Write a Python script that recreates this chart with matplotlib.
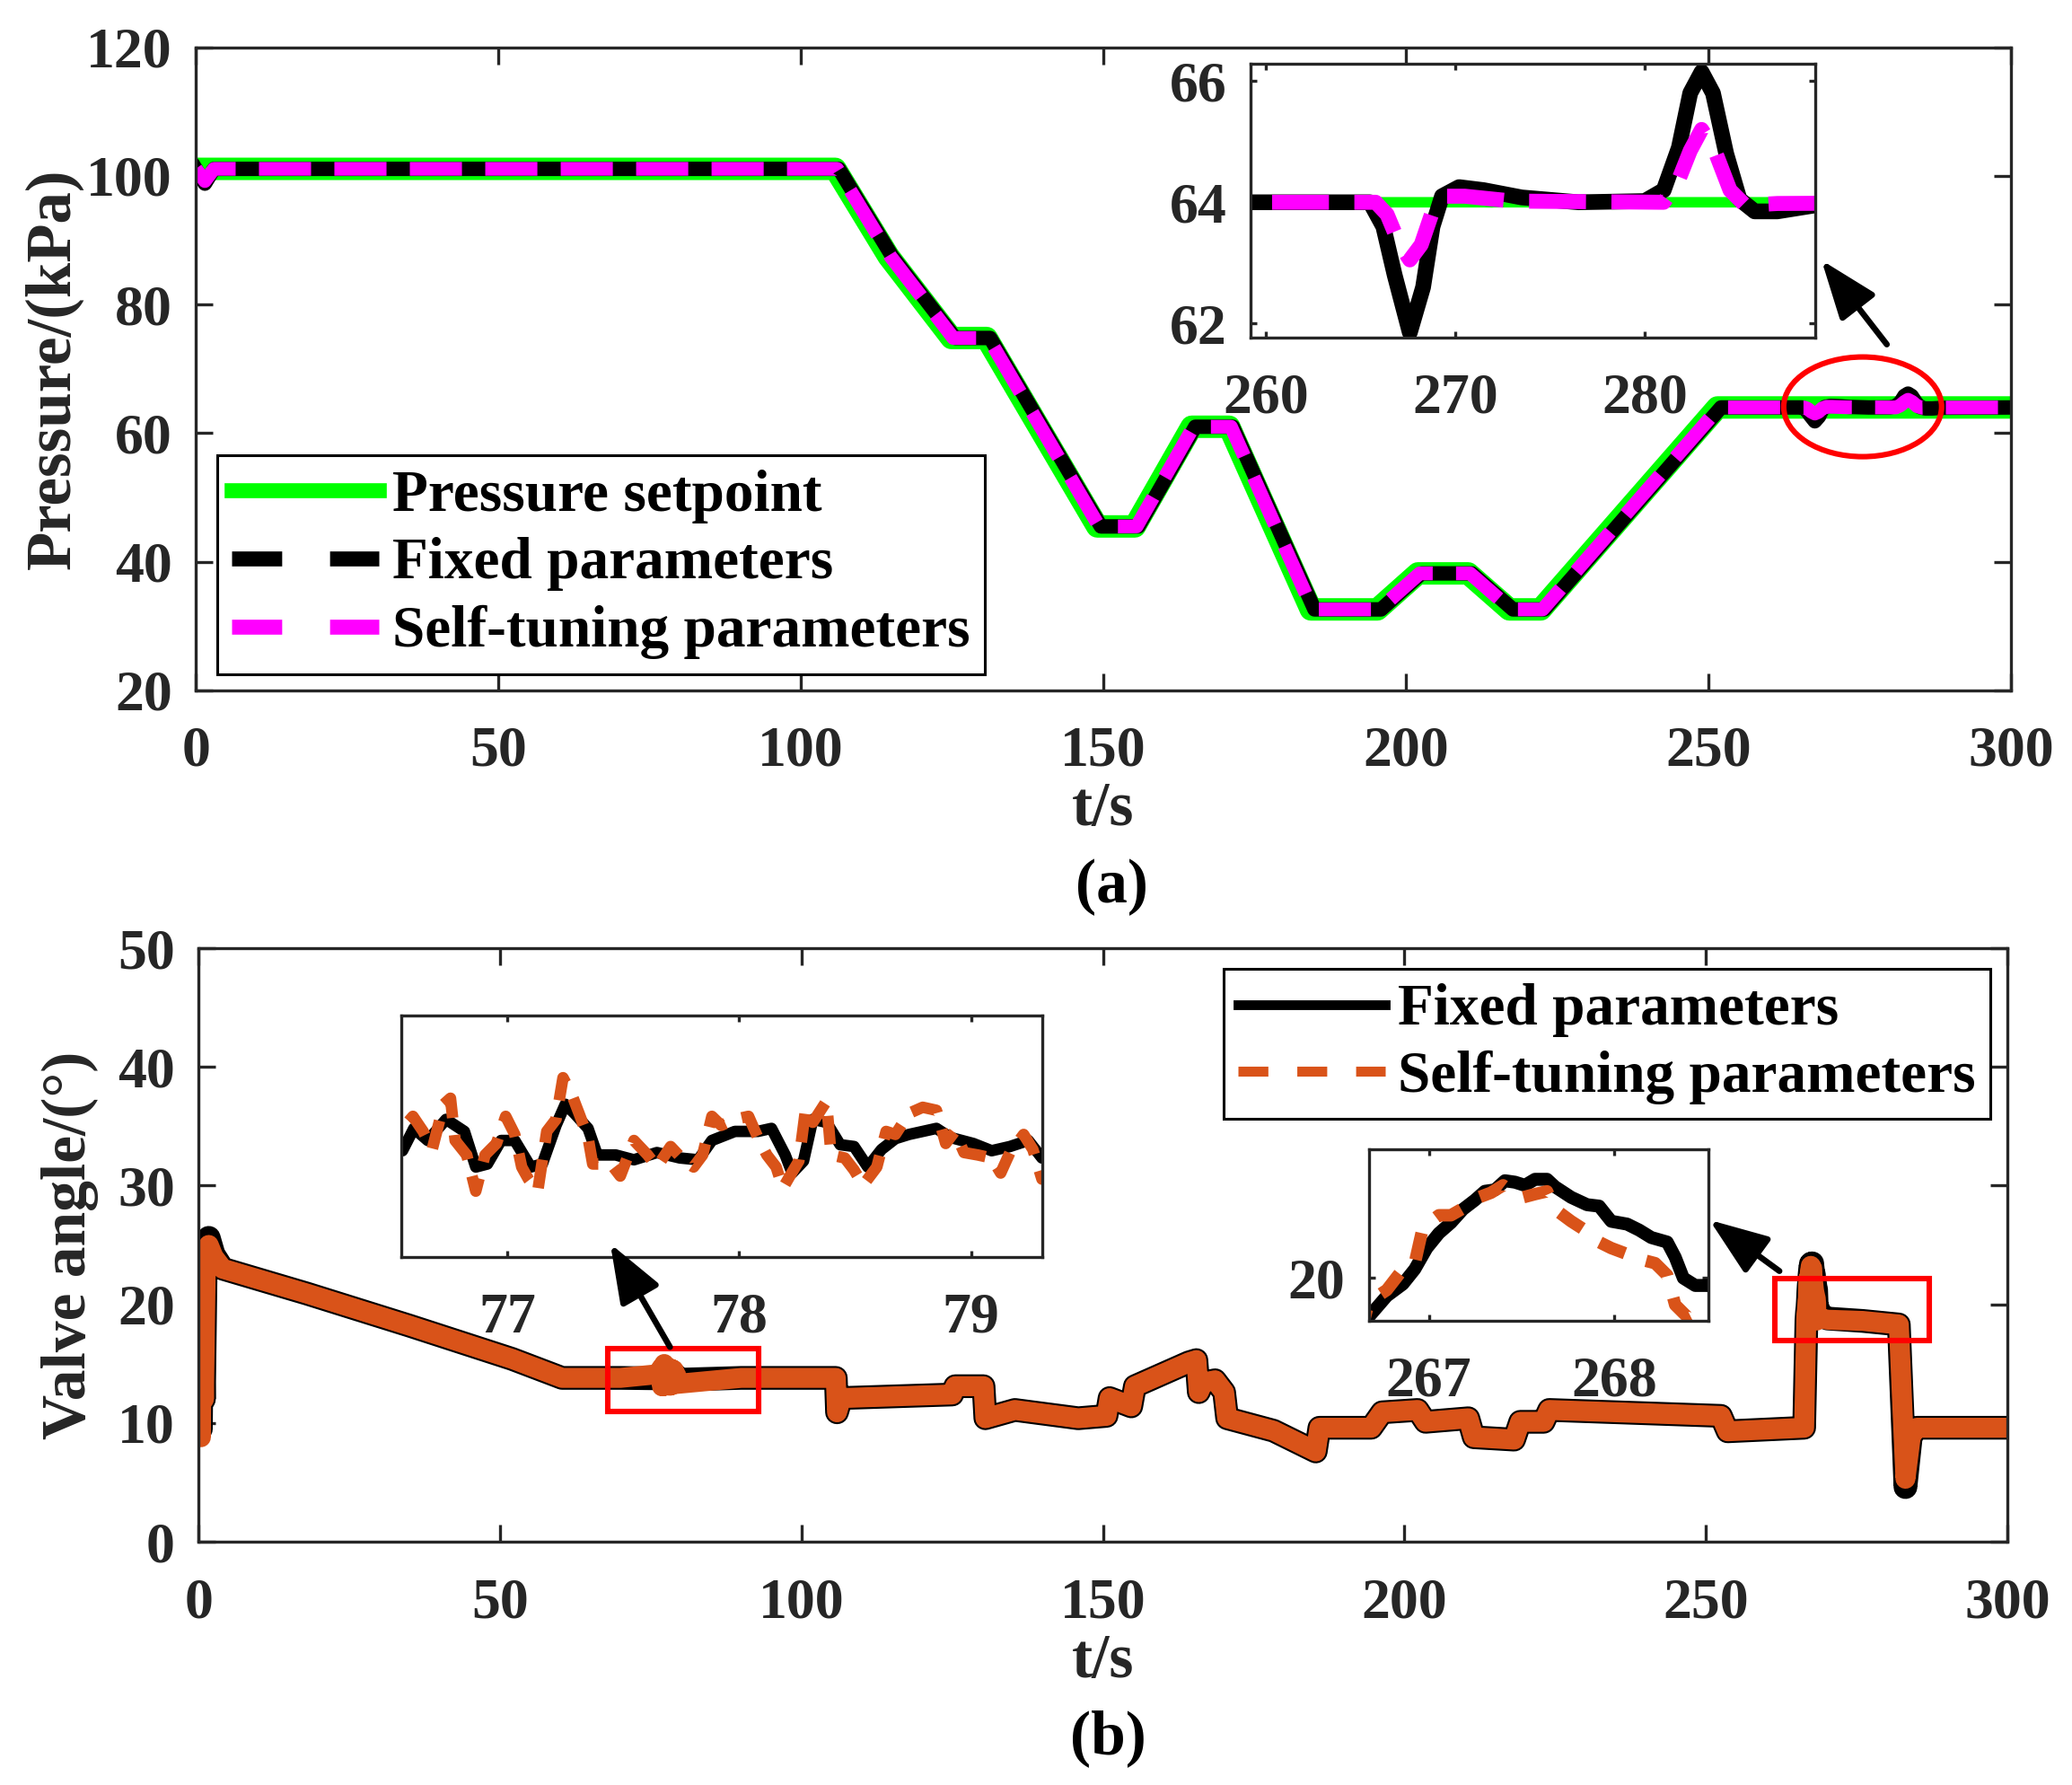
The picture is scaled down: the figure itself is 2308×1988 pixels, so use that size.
import numpy as np
import matplotlib.pyplot as plt
from matplotlib.lines import Line2D
from matplotlib.patches import Ellipse, Rectangle, FancyArrowPatch

plt.rcParams['font.family'] = ['Liberation Serif', 'DejaVu Serif']
plt.rcParams['font.weight'] = 'bold'
plt.rcParams['axes.labelweight'] = 'bold'

GRAY = '#262626'
GREEN = '#00ff00'
MAGENTA = '#ff00ff'
ORANGE = '#d95319'

# ---------------- (a) pressure, kPa ----------------
t_set = [0, 105.7, 114.5, 124.9, 130.7, 149.0, 155.2, 164.6, 170.8, 184.3, 195.3,
         202.0, 210.3, 217.1, 222.3, 251.5, 300]
p_set = [101.1, 101.1, 87.5, 74.8, 74.8, 45.5, 45.5, 61.0, 61.0, 32.6, 32.6,
         38.2, 38.2, 32.6, 32.6, 64.0, 64.0]

t_fix = [0, 1.5, 3.0, 106.3, 115.1, 125.5, 131.3, 149.6, 155.8, 165.2, 171.4,
         184.9, 195.9, 202.6, 210.9, 217.7, 222.9, 252.1, 265.5, 266.2, 266.8,
         267.6, 268.3, 268.8, 269.3, 270.2, 271.5, 273.5, 276.5, 280.0, 281.0,
         281.8, 282.4, 283.0, 283.6, 284.3, 285.0, 285.8, 287.0, 289.0, 300]
p_fix = [101.1, 98.8, 101.1, 101.1, 87.5, 74.8, 74.8, 45.5, 45.5, 61.0, 61.0,
         32.6, 32.6, 38.2, 38.2, 32.6, 32.6, 64.0, 64.0, 63.6, 62.8,
         61.85, 62.6, 63.6, 64.1, 64.25, 64.2, 64.08, 64.0, 64.02, 64.2,
         64.9, 65.8, 66.15, 65.8, 64.8, 64.05, 63.85, 63.85, 63.95, 64.0]

t_self = [0, 1.5, 3.0, 106.0, 114.8, 125.2, 131.0, 149.3, 155.5, 164.9, 171.1,
          184.6, 195.6, 202.3, 210.6, 217.4, 222.6, 251.8, 265.8, 266.4, 267.0,
          267.6, 268.2, 268.8, 269.5, 270.5, 273.0, 281.0, 281.7, 282.4, 283.0,
          283.7, 284.5, 285.3, 287.0, 300]
p_self = [101.1, 99.2, 101.1, 101.1, 87.5, 74.8, 74.8, 45.5, 45.5, 61.0, 61.0,
          32.6, 32.6, 38.2, 38.2, 32.6, 32.6, 64.0, 64.0, 63.8, 63.35,
          63.05, 63.3, 63.85, 64.1, 64.1, 64.02, 64.0, 64.3, 64.85, 65.2,
          64.85, 64.2, 63.95, 63.98, 64.0]

# ---------------- (b) valve angle, deg ----------------
t_valve = [0, 0.2, 0.4, 0.6, 0.9, 1.2, 1.7, 2.5, 4, 18, 35, 52, 60.3, 70, 90,
           105.7, 105.9, 106.6, 125.0, 125.5, 130.2, 130.5, 135.4, 145.9, 150.6,
           151.1, 154.7, 155.3, 164.2, 165.5, 165.9, 166.6, 168.6, 170.1, 170.6,
           178.3, 185.3, 185.9, 194.5, 196.3, 202.2, 203.5, 210.6, 211.5, 218.2,
           219.2, 223.1, 224.0, 252.5, 253.6, 266.3, 269.2, 270.2, 276, 282.0,
           283.1, 284.0, 285.0, 300]
v_fix = [10.0, 21.5, 9.5, 20.5, 12.0, 23.5, 25.6, 24.2, 23.0, 20.9, 18.2, 15.4, 13.8, 13.8, 13.8,
         13.8, 10.9, 12.1, 12.4, 13.1, 13.1, 10.4, 11.1, 10.4, 10.6,
         12.1, 11.4, 13.1, 15.1, 15.3, 12.6, 13.4, 13.6, 12.6, 10.4,
         9.35, 7.6, 9.6, 9.6, 10.9, 11.1, 10.1, 10.4, 8.8, 8.6,
         10.1, 10.1, 11.1, 10.6, 9.3, 9.6, 19.0, 18.8, 18.6, 18.3,
         4.6, 8.9, 9.6, 9.6]
v_self = [10.0, 22.5, 8.8, 21.5, 12.0, 23.0, 25.0, 24.0, 23.0, 20.9, 18.2, 15.4, 13.8, 13.8, 13.8,
          13.8, 10.9, 12.1, 12.4, 13.1, 13.1, 10.4, 11.1, 10.4, 10.6,
          12.1, 11.4, 13.1, 15.1, 15.3, 12.6, 13.4, 13.6, 12.6, 10.4,
          9.35, 7.6, 9.6, 9.6, 10.9, 11.1, 10.1, 10.4, 8.8, 8.6,
          10.1, 10.1, 11.1, 10.6, 9.3, 9.6, 18.8, 18.7, 18.6, 18.3,
          5.3, 8.9, 9.6, 9.6]

# detail 76.5 - 79.3 s
t_z1_fix = [76.549, 76.598, 76.658, 76.737, 76.816, 76.865, 76.915, 76.974, 77.033, 77.102,
            77.152, 77.211, 77.251, 77.290, 77.349, 77.389, 77.468, 77.547, 77.646, 77.745,
            77.824, 77.883, 77.982, 78.081, 78.140, 78.199, 78.229, 78.278, 78.318, 78.377,
            78.436, 78.496, 78.555, 78.614, 78.674, 78.733, 78.792, 78.851, 78.911, 79.010,
            79.089, 79.168, 79.247, 79.306]
v_z1_fix = [13.76, 14.13, 13.93, 14.28, 14.08, 13.49, 13.54, 13.93, 13.93, 13.49,
            13.54, 14.18, 14.53, 14.38, 14.13, 13.69, 13.69, 13.61, 13.73, 13.64,
            13.61, 13.93, 14.08, 14.08, 14.13, 13.69, 13.39, 13.59, 14.28, 14.23,
            13.86, 13.83, 13.49, 13.78, 13.96, 14.03, 14.08, 14.13, 13.98, 13.88,
            13.76, 13.83, 13.93, 13.64]
t_z1_self = [76.549, 76.594, 76.638, 76.677, 76.727, 76.756, 76.776, 76.826, 76.865, 76.905,
             76.954, 76.994, 77.033, 77.063, 77.092, 77.132, 77.171, 77.211, 77.241, 77.280,
             77.310, 77.349, 77.369, 77.448, 77.488, 77.547, 77.606, 77.646, 77.705, 77.764,
             77.804, 77.843, 77.883, 77.923, 77.982, 78.041, 78.081, 78.120, 78.160, 78.189,
             78.219, 78.258, 78.288, 78.318, 78.377, 78.397, 78.456, 78.496, 78.535, 78.594,
             78.634, 78.674, 78.733, 78.792, 78.851, 78.891, 78.930, 78.970, 79.029, 79.089,
             79.128, 79.168, 79.227, 79.267, 79.306]
v_z1_self = [14.13, 14.33, 14.08, 13.78, 14.53, 14.63, 13.93, 13.69, 13.09, 13.69,
             13.88, 14.33, 14.03, 13.49, 13.29, 13.09, 14.08, 14.28, 14.97, 14.68,
             14.38, 13.98, 13.54, 13.54, 13.34, 13.93, 13.69, 13.49, 13.83, 13.59,
             13.49, 13.69, 14.33, 14.18, 14.28, 14.33, 13.98, 13.69, 13.49, 13.14,
             13.34, 13.59, 14.48, 14.23, 14.58, 13.69, 13.64, 13.44, 13.19, 13.49,
             14.08, 14.03, 14.38, 14.48, 14.43, 13.88, 14.08, 13.73, 13.69, 13.64,
             13.39, 13.73, 14.03, 13.78, 13.29]

# detail 266.7 - 268.5 s
t_z2_fix = [266.676, 266.773, 266.860, 266.924, 266.989, 267.054, 267.119, 267.184, 267.248, 267.302,
            267.356, 267.410, 267.464, 267.518, 267.572, 267.637, 267.680, 267.767, 267.853, 267.918,
            267.983, 268.069, 268.134, 268.199, 268.285, 268.328, 268.372, 268.436, 268.501]
v_z2_fix = [18.63, 19.36, 19.78, 20.30, 21.04, 21.56, 21.93, 22.40, 22.72, 23.03,
            23.08, 23.40, 23.35, 23.24, 23.45, 23.45, 23.19, 22.82, 22.56, 22.51,
            21.98, 21.88, 21.67, 21.41, 21.25, 20.72, 19.99, 19.73, 19.73]
t_z2_self = [266.676, 266.773, 266.860, 266.924, 266.968, 267.054, 267.119, 267.205, 267.270, 267.335,
             267.400, 267.443, 267.508, 267.572, 267.637, 267.680, 267.767, 267.853, 267.918, 267.983,
             268.069, 268.155, 268.220, 268.285, 268.328, 268.393, 268.458, 268.501]
v_z2_self = [19.15, 19.57, 20.30, 20.51, 21.77, 22.19, 22.19, 22.51, 22.82, 22.98,
             23.24, 23.03, 22.82, 22.93, 23.03, 22.40, 21.98, 21.62, 21.25, 21.04,
             20.83, 20.62, 20.51, 20.09, 19.05, 18.63, 18.84, 18.89]


def merge(*parts):
    t = np.concatenate([np.asarray(p[0], float) for p in parts])
    v = np.concatenate([np.asarray(p[1], float) for p in parts])
    o = np.argsort(t, kind='stable')
    return t[o], v[o]


tv_fix, vv_fix = merge((t_valve, v_fix), (t_z1_fix, v_z1_fix), (t_z2_fix, v_z2_fix))
tv_self, vv_self = merge((t_valve, v_self), (t_z1_self, v_z1_self), (t_z2_self, v_z2_self))


def style(ax, ticklen=7, lab=23):
    ax.tick_params(direction='in', top=True, right=True, length=ticklen, width=1.2,
                   labelsize=lab, colors=GRAY)
    ax.tick_params(axis='x', pad=14.4)
    ax.tick_params(axis='y', pad=9.4)
    for s in ax.spines.values():
        s.set_linewidth(1.2)
        s.set_color(GRAY)


def arrow(ax, tail, tip):
    fig.add_artist(FancyArrowPatch(tail, tip, transform=ax.transData,
                                   arrowstyle='-|>,head_length=20,head_width=7.5',
                                   mutation_scale=1, lw=2.4, color='k',
                                   shrinkA=0, shrinkB=0, zorder=10))


fig = plt.figure(figsize=(11.54, 9.94), dpi=200)

# ---------- panel (a) ----------
ax1 = fig.add_axes([0.0945, 0.6132, 0.876, 0.3603])
ax1.plot(t_set, p_set, color=GREEN, lw=9)
ax1.plot(t_fix, p_fix, color='k', lw=5.8)
ax1.plot(t_self, p_self, color=MAGENTA, lw=5.5, ls=(0, (3.8, 1.7)))
ax1.set_xlim(0, 300)
ax1.set_ylim(20, 120)
ax1.set_xticks(np.arange(0, 301, 50))
ax1.set_yticks(np.arange(20, 121, 20))
style(ax1)
ax1.set_xlabel('t/s', fontsize=25, color=GRAY)
ax1.xaxis.label.set_va('center')
ax1.xaxis.set_label_coords(0.5, -0.186)
ax1.set_ylabel('Pressure/(kPa)', fontsize=25.5, color=GRAY)
ax1.yaxis.label.set_va('center')
ax1.yaxis.set_label_coords(-0.078, 0.5)
ax1.add_patch(Ellipse((275.5, 64.1), 26.1, 15.5, fill=False, edgecolor='r',
                      lw=2.2, zorder=5, clip_on=False))
leg_a = [Line2D([], [], color=GREEN, lw=6),
         Line2D([], [], color='k', lw=6, ls=(0, (3.35, 3.2))),
         Line2D([], [], color=MAGENTA, lw=6, ls=(0, (3.35, 3.2)))]
la = ax1.legend(leg_a, ['Pressure setpoint', 'Fixed parameters', 'Self-tuning parameters'],
                loc='lower left', bbox_to_anchor=(0.0119, 0.0255), borderaxespad=0,
                fontsize=23.5, fancybox=False, edgecolor='k', framealpha=1,
                handlelength=2.51, handletextpad=0.22, borderpad=0.25, labelspacing=0.24)
la.get_frame().set_linewidth(1.1)

ins_a = fig.add_axes([0.6036, 0.8109, 0.2725, 0.1536])
ins_a.plot(t_set, p_set, color=GREEN, lw=4.2)
ins_a.plot(t_fix, p_fix, color='k', lw=6.3)
ins_a.plot(t_self, p_self, color=MAGENTA, lw=6.0, ls=(0, (3.8, 1.7)))
ins_a.set_xlim(259.2, 289)
ins_a.set_ylim(61.77, 66.29)
ins_a.set_xticks([260, 270, 280])
ins_a.set_yticks([62, 64, 66])
style(ins_a, ticklen=2.5)

# ---------- panel (b) ----------
ax2 = fig.add_axes([0.0958, 0.1363, 0.873, 0.3325])
ax2.plot(tv_fix, vv_fix, color='k', lw=9.5)
ax2.plot(tv_self, vv_self, color=ORANGE, lw=8)
ax2.set_xlim(0, 300)
ax2.set_ylim(0, 50)
ax2.set_xticks(np.arange(0, 301, 50))
ax2.set_yticks(np.arange(0, 51, 10))
style(ax2)
ax2.set_xlabel('t/s', fontsize=25, color=GRAY)
ax2.xaxis.label.set_va('center')
ax2.xaxis.set_label_coords(0.5, -0.203)
ax2.set_ylabel('Valve angle/(\u00b0)', fontsize=25, color=GRAY)
ax2.yaxis.label.set_va('center')
ax2.yaxis.set_label_coords(-0.071, 0.5)
ax2.add_patch(Rectangle((67.9, 11.0), 25.0, 5.25, fill=False, edgecolor='r',
                        lw=2.2, zorder=5))
ax2.add_patch(Rectangle((261.5, 16.95), 25.6, 5.25, fill=False, edgecolor='r',
                        lw=2.2, zorder=5))
leg_b = [Line2D([], [], color='k', lw=3.9),
         Line2D([], [], color=ORANGE, lw=4, ls=(0, (3.0, 2.9)))]
lb = ax2.legend(leg_b, ['Fixed parameters', 'Self-tuning parameters'],
                loc='upper right', bbox_to_anchor=(0.9906, 0.9652), borderaxespad=0,
                fontsize=23.5, fancybox=False, edgecolor='k', framealpha=1,
                handlelength=2.51, handletextpad=0.22, borderpad=0.25, labelspacing=0.22)
lb.get_frame().set_linewidth(1.1)

ins_b1 = fig.add_axes([0.1938, 0.2958, 0.3093, 0.1353])
ins_b1.plot(tv_fix, vv_fix, color='k', lw=4.6)
ins_b1.plot(tv_self, vv_self, color=ORANGE, lw=4.6, ls=(0, (2.5, 1.5)))
ins_b1.set_xlim(76.545, 79.308)
ins_b1.set_ylim(12, 16)
ins_b1.set_xticks([77, 78, 79])
ins_b1.set_yticks([])
style(ins_b1, ticklen=2.5)

ins_b2 = fig.add_axes([0.6606, 0.2602, 0.164, 0.0959])
ins_b2.plot(tv_fix, vv_fix, color='k', lw=5.2)
ins_b2.plot(tv_self, vv_self, color=ORANGE, lw=5.0, ls=(0, (2.2, 1.8)))
ins_b2.set_xlim(266.676, 268.508)
ins_b2.set_ylim(18.5, 24.5)
ins_b2.set_xticks([267, 268])
ins_b2.set_yticks([20])
style(ins_b2, ticklen=2.5)

arrow(ax1, (279.5, 73.8), (268.7, 86.9))
arrow(ax2, (78.2, 16.4), (68.3, 25.1))
arrow(ax2, (262.2, 22.8), (250.6, 27.1))

fig.text(0.5364, 0.503, '(a)', ha='center', va='center', fontsize=25)
fig.text(0.5350, 0.026, '(b)', ha='center', va='center', fontsize=25)

fig.savefig('out.png', dpi=200)
